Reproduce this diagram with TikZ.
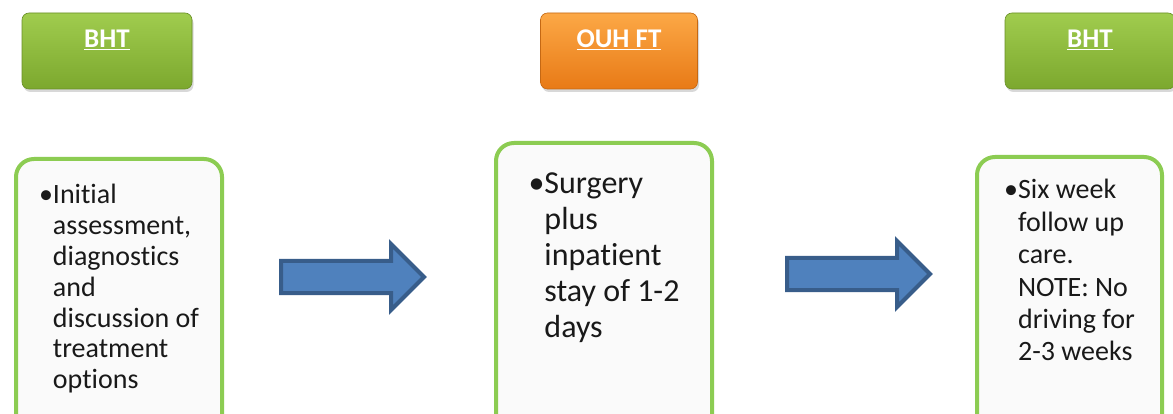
\documentclass[tikz,border=0pt]{standalone}
\usepackage{fontspec}
\setmainfont{Carlito}[Ligatures={NoCommon,NoDiscretionary}]
\usetikzlibrary{shapes.arrows,shadows}

\definecolor{bhttop}{RGB}{160,204,78}
\definecolor{bhtbottom}{RGB}{124,168,46}
\definecolor{ouhtop}{RGB}{252,168,70}
\definecolor{ouhbottom}{RGB}{232,122,22}
\definecolor{boxgreen}{RGB}{140,204,82}
\definecolor{arrowblue}{RGB}{79,129,189}
\definecolor{arrowedge}{RGB}{56,93,138}

\tikzset{
    headbox/.style={rounded corners=7pt, minimum height=76pt, text=white,
        font=\fontsize{27}{30}\selectfont\bfseries, text height=17pt, text depth=23pt,
        drop shadow={opacity=0.3, shadow xshift=1.5pt, shadow yshift=-3pt}},
    greenhead/.style={headbox, top color=bhttop, bottom color=bhtbottom, draw=bhtbottom!85!black, line width=0.6pt},
    orangehead/.style={headbox, top color=ouhtop, bottom color=ouhbottom, draw=ouhbottom!85!black, line width=0.6pt},
    stagebox/.style={draw=boxgreen, line width=4pt, rounded corners=18pt, fill=black!2,
        anchor=north west, inner ysep=0pt, text depth=270pt, text=black!90},
    flowarrow/.style={single arrow, draw=arrowedge, fill=arrowblue, line width=4pt,
        single arrow head extend=17pt, minimum height=143pt, inner sep=0pt,
        text height=14pt, text depth=14pt, anchor=tail}
}

\begin{document}
\begin{tikzpicture}[x=1pt,y=-1pt]
    \fill[white] (0,0) rectangle (1173,414);
    \useasboundingbox (0,0) rectangle (1173,414);

    % sites
    \node[greenhead, minimum width=170pt] (bhtleft) at (107,51) {\underline{BHT}};
    \node[orangehead, minimum width=157pt] (ouh) at (619,51) {\underline{OUH FT}};
    \node[greenhead, minimum width=170pt] (bhtright) at (1090,51) {\underline{BHT}};

    % stages
    \node[stagebox, minimum width=206pt, inner xsep=23pt, text height=45pt,
        font=\fontsize{28}{30.8}\selectfont] (assess) at (14,157)
        {\begin{tabular}[t]{@{}l@{}l@{}}
            \textbullet & Initial\\
            & assessment,\\
            & diagnostics\\
            & and\\
            & discussion of\\
            & treatment\\
            & options
        \end{tabular}};
    \node[stagebox, minimum width=216pt, inner xsep=28pt, text height=51pt,
        font=\fontsize{32}{36}\selectfont] (surgery) at (494,141)
        {\begin{tabular}[t]{@{}l@{}l@{}}
            \textbullet & Surgery\\
            & plus\\
            & inpatient\\
            & stay of 1-2\\
            & days
        \end{tabular}};
    \node[stagebox, minimum width=185pt, inner xsep=23pt, text height=42pt,
        font=\fontsize{28}{32.4}\selectfont] (followup) at (975,155)
        {\begin{tabular}[t]{@{}l@{}l@{}}
            \textbullet & Six week\\
            & follow up\\
            & care.\\
            & NOTE: No\\
            & driving for\\
            & 2-3 weeks
        \end{tabular}};

    % arrows between stages
    \node[flowarrow] (tosurgery) at (279,277) {};
    \node[flowarrow] (tofollowup) at (785,274) {};
\end{tikzpicture}
\end{document}
